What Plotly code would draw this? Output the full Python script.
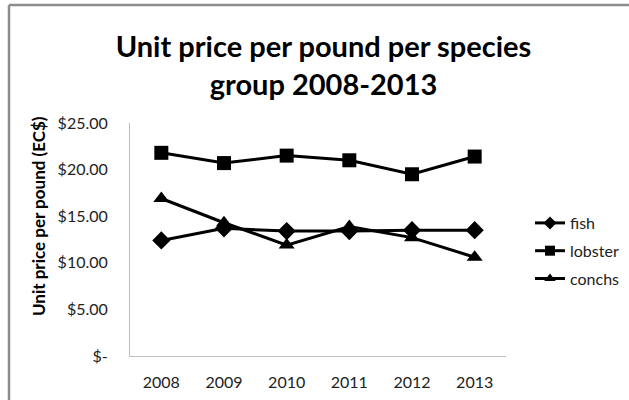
import plotly.graph_objects as go

years = [2008, 2009, 2010, 2011, 2012, 2013]
fish = [12.4, 13.7, 13.4, 13.4, 13.5, 13.5]
lobster = [21.8, 20.7, 21.5, 21.0, 19.5, 21.4]
conchs = [16.9, 14.3, 11.9, 13.9, 12.7, 10.6]

ytick_vals = [0, 5, 10, 15, 20, 25]
ytick_text = ["$-", "$5.00", "$10.00", "$15.00", "$20.00", "$25.00"]

series = [
    ("fish", fish, "diamond", 14),
    ("lobster", lobster, "square", 14),
    ("conchs", conchs, "triangle-up", 14),
]

FONT = "Lato, Open Sans, sans-serif"

fig = go.Figure()
for name, vals, sym, sz in series:
    fig.add_trace(go.Scatter(
        x=years, y=vals, name=name, mode="lines+markers",
        line=dict(color="black", width=3),
        marker=dict(symbol=sym, size=sz, color="black"),
        legendgroup=name, showlegend=False,
    ))
    # legend entry with smaller marker, as in the reference legend
    fig.add_trace(go.Scatter(
        x=[None], y=[None], name=name, mode="lines+markers",
        line=dict(color="black", width=3),
        marker=dict(symbol=sym, size=10, color="black"),
        legendgroup=name, showlegend=True,
    ))

L, R, T, B = 130, 123, 123, 44
W, H = 629, 400
pw, ph = W - L - R, H - T - B

def px(x):
    return (x - L) / pw

def py(y):
    return (H - B - y) / ph

fig.update_layout(
    width=W, height=H,
    margin=dict(l=L, r=R, t=T, b=B, autoexpand=False),
    paper_bgcolor="white", plot_bgcolor="white",
    font=dict(family=FONT, color="#222", size=15),
    title=dict(
        text="<b>Unit price per pound per species<br>group 2008-2013</b>",
        x=323.5 / W, xanchor="center", y=1 - 57 / H, yanchor="middle",
        yref="container", font=dict(family=FONT, size=29, color="black"),
    ),
    xaxis=dict(
        range=[2007.5, 2013.5], tickvals=years, ticktext=[str(y) for y in years],
        showgrid=False, zeroline=False, showline=True, linecolor="#bfbfbf",
        linewidth=1, ticks="", ticklabelstandoff=12,
        tickfont=dict(size=16, family=FONT, color="#222"),
    ),
    yaxis=dict(
        range=[0, 25], tickvals=ytick_vals, ticktext=ytick_text,
        showgrid=False, zeroline=False, showline=True, linecolor="#bfbfbf",
        linewidth=1, ticks="", ticklabelstandoff=18,
        tickfont=dict(size=16, family=FONT, color="#222"),
    ),
    legend=dict(
        x=px(530), y=py(206), xanchor="left", yanchor="top",
        font=dict(size=16, family=FONT, color="#222"),
        tracegroupgap=4, itemwidth=30, bgcolor="rgba(0,0,0,0)",
    ),
    showlegend=True,
)

fig.add_annotation(
    text="<b>Unit price per pound (EC$)</b>", textangle=-90,
    xref="paper", yref="paper", x=px(38), y=py(216),
    xanchor="center", yanchor="middle",
    showarrow=False, font=dict(size=17, family=FONT, color="black"),
)

# outer chart border (partially cropped)
fig.add_shape(type="line", xref="paper", yref="paper",
              x0=px(9), y0=py(5), x1=px(640), y1=py(5),
              line=dict(color="#8c8c8c", width=2.5))
fig.add_shape(type="line", xref="paper", yref="paper",
              x0=px(9), y0=py(5), x1=px(9), y1=py(410),
              line=dict(color="#8c8c8c", width=2.5))

fig.write_html("out.html")
